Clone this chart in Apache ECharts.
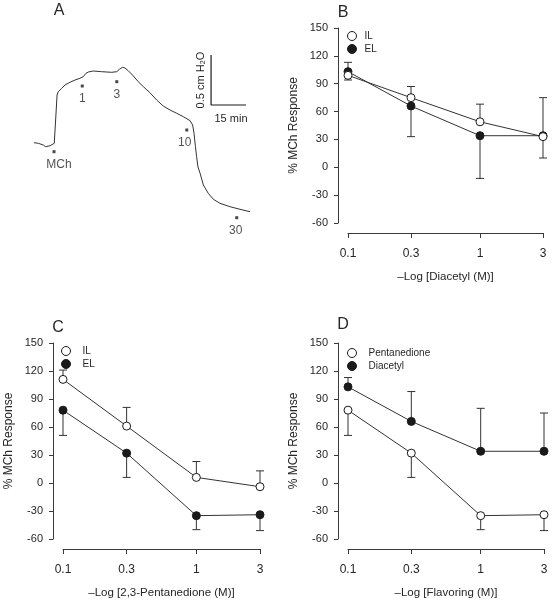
<!DOCTYPE html>
<html>
<head>
<meta charset="utf-8">
<script src="https://cdn.jsdelivr.net/npm/echarts@6/dist/echarts.min.js"></script>
<style>
html,body{margin:0;padding:0;background:#fff;}
#chart{width:552px;height:600px;}
</style>
</head>
<body>
<div id="chart"></div>
<script>
// ---------- DATA ----------
const doseTicks = [0.1, 0.3, 1, 3];

// Panel B: Diacetyl
const bIL = [99, 75, 49, 33];
const bILErrEnd = [94, 87, 68, 10];
const bEL = [103, 66, 34, 34];
const bELErrEnd = [113, 33, -12, 75];

// Panel C: 2,3-Pentanedione
const cIL = [111, 61, 6, -4];
const cILErrEnd = [121, 81, 23, 13];
const cEL = [78, 32, -35, -34];
const cELErrEnd = [51, 6, -50, -51];

// Panel D: Flavoring comparison (EL)
const dPent = [78, 32, -35, -34];
const dPentErrEnd = [51, 6, -50, -51];
const dDiac = [103, 66, 34, 34];
const dDiacErrEnd = [113, 98, 80, 75];

// Panel A: pressure trace (minutes, cm H2O)
const traceTime = [1.7, 3.6, 5.7, 6.7, 7.5, 8.6, 10.4, 11.0, 11.6, 12.1, 13.6, 15.0, 17.1, 19.3, 21.4, 22.8, 24.0, 25.0, 27.1, 30.7, 35.0, 37.2, 38.3, 39.7, 40.7, 42.1, 44.3, 46.4, 48.6, 51.4, 54.3, 57.1, 60.0, 62.9, 65.7, 68.6, 69.7, 70.3, 70.9, 71.4, 72.0, 72.9, 74.3, 76.4, 78.6, 81.4, 85.7, 90.0, 94.3];
const tracePressure = [0.873, 0.867, 0.85, 0.833, 0.813, 0.843, 0.867, 0.883, 1.35, 1.383, 1.417, 1.45, 1.477, 1.50, 1.517, 1.533, 1.567, 1.58, 1.59, 1.583, 1.577, 1.583, 1.607, 1.627, 1.62, 1.593, 1.54, 1.483, 1.433, 1.373, 1.30, 1.24, 1.20, 1.167, 1.133, 1.093, 1.05, 0.967, 0.833, 0.733, 0.63, 0.567, 0.45, 0.367, 0.307, 0.267, 0.233, 0.207, 0.183];
const doseLabels = ['MCh', '1', '3', '10', '30'];
const doseTime = [10.3, 22.4, 37.2, 67.2, 88.6];
const dosePressure = [0.783, 1.44, 1.483, 1.0, 0.123];
const scaleBarTime = [77.6, 77.6, 92.6];
const scaleBarPressure = [1.75, 1.25, 1.25];

// ---------- STYLE ----------
const FONT = 'Liberation Sans, Arial, Helvetica, sans-serif';
const INK = '#1a1a1a';
const AXIS = '#3a3a3a';
const TXT = '#262626';
const labelOffsets = {MCh: [5, 0], '10': [-2, 0], '30': [-1, 0]};

function pairs(xs, ys) { return xs.map((x, i) => [x, ys[i]]); }
function errTriples(ys, ends) { return doseTicks.map((x, i) => [x, ys[i], ends[i]]); }

function xAxisFor(gi, name) {
  return {
    type: 'log', logBase: 10, gridIndex: gi, min: 0.1, max: 3, offset: 10,
    axisLine: {show: true, onZero: false, lineStyle: {color: AXIS, width: 1}},
    axisTick: {show: true, customValues: doseTicks, length: 5, inside: false, lineStyle: {color: AXIS}},
    axisLabel: {customValues: doseTicks, fontSize: 12, color: TXT, fontFamily: FONT, margin: 15,
      formatter: v => String(+(+v).toPrecision(2))},
    minorTick: {show: false}, splitLine: {show: false}, minorSplitLine: {show: false},
    name: name, nameLocation: 'middle', nameGap: 38,
    nameTextStyle: {fontSize: 11.5, color: TXT, fontFamily: FONT}
  };
}
function yAxisFor(gi) {
  return {
    type: 'value', gridIndex: gi, min: -60, max: 150, interval: 30, offset: 10,
    axisLine: {show: true, lineStyle: {color: AXIS, width: 1}},
    axisTick: {show: true, length: 4, lineStyle: {color: AXIS}},
    axisLabel: {fontSize: 11, color: TXT, fontFamily: FONT, margin: 10},
    splitLine: {show: false},
    name: '% MCh Response', nameLocation: 'middle', nameGap: 38,
    nameTextStyle: {fontSize: 12, color: TXT, fontFamily: FONT}
  };
}
function errSeries(gi, ys, ends) {
  return {
    type: 'custom', xAxisIndex: gi, yAxisIndex: gi, z: 1, silent: true,
    data: errTriples(ys, ends),
    encode: {x: 0, y: [1, 2]},
    renderItem: function (params, api) {
      const p0 = api.coord([api.value(0), api.value(1)]);
      const p1 = api.coord([api.value(0), api.value(2)]);
      const st = {stroke: '#333', lineWidth: 1};
      return {type: 'group', children: [
        {type: 'line', shape: {x1: p0[0], y1: p0[1], x2: p1[0], y2: p1[1]}, style: st},
        {type: 'line', shape: {x1: p1[0] - 4, y1: p1[1], x2: p1[0] + 4, y2: p1[1]}, style: st}
      ]};
    }
  };
}
function lineSeries(gi, name, ys, open) {
  return {
    type: 'line', name: name, xAxisIndex: gi, yAxisIndex: gi, z: open ? 4 : 3,
    data: pairs(doseTicks, ys),
    symbol: 'circle', symbolSize: 8, showAllSymbol: true,
    itemStyle: {color: open ? '#fff' : INK, borderColor: INK, borderWidth: 1},
    lineStyle: {color: '#333', width: 1},
    emphasis: {disabled: true}
  };
}
const openItem = {color: '#fff', borderColor: INK, borderWidth: 1};
const fillItem = {color: INK, borderColor: INK, borderWidth: 1};
function legendFor(left, top, names, pad) {
  return {
    orient: 'vertical', left: left, top: top, icon: 'circle', itemWidth: 9, itemHeight: 9, itemGap: 3,
    selectedMode: false,
    textStyle: {fontSize: 10, color: TXT, fontFamily: FONT, padding: [0, 0, 0, pad]},
    data: [{name: names[0], itemStyle: openItem}, {name: names[1], itemStyle: fillItem}]
  };
}

const letters = [['A', 59, 11], ['B', 343, 13], ['C', 58, 328], ['D', 343, 325]];

const option = {
  animation: false,
  backgroundColor: '#fff',
  grid: [
    {left: 30, top: 30, width: 233.33, height: 200},
    {left: 348, top: 28, width: 195, height: 195},
    {left: 63, top: 343, width: 197, height: 196},
    {left: 348, top: 343, width: 196, height: 196}
  ],
  xAxis: [
    {type: 'value', gridIndex: 0, min: 0, max: 100, show: false},
    xAxisFor(1, '\u2013Log [Diacetyl (M)]'),
    xAxisFor(2, '\u2013Log [2,3-Pentanedione (M)]'),
    xAxisFor(3, '\u2013Log [Flavoring (M)]')
  ],
  yAxis: [
    {type: 'value', gridIndex: 0, min: 0, max: 2, show: false},
    yAxisFor(1), yAxisFor(2), yAxisFor(3)
  ],
  legend: [
    legendFor(342, 26, ['IL', 'EL'], 3),
    legendFor(56, 341, ['IL', 'EL'], 7),
    legendFor(342, 343, ['Pentanedione', 'Diacetyl'], 7)
  ],
  graphic: [
    ...letters.map(l => ({type: 'text', x: l[1], y: l[2],
      style: {text: l[0], fill: TXT, font: '16px ' + FONT, textAlign: 'center', textVerticalAlign: 'middle'}})),
    {type: 'text', x: 201, y: 80, rotation: Math.PI / 2,
      style: {text: '0.5 cm H\u2082O', font: '11px ' + FONT, fill: TXT, textAlign: 'center', textVerticalAlign: 'middle'}},
    {type: 'text', x: 231, y: 119,
      style: {text: '15 min', font: '11px ' + FONT, fill: TXT, textAlign: 'center', textVerticalAlign: 'middle'}}
  ],
  series: [
    {type: 'line', name: 'trace', xAxisIndex: 0, yAxisIndex: 0, data: pairs(traceTime, tracePressure),
      showSymbol: false, lineStyle: {color: '#333', width: 1}, emphasis: {disabled: true}, silent: true},
    {type: 'line', name: 'scalebar', xAxisIndex: 0, yAxisIndex: 0, data: pairs(scaleBarTime, scaleBarPressure),
      showSymbol: false, lineStyle: {color: INK, width: 1.2}, emphasis: {disabled: true}, silent: true},
    {type: 'scatter', name: 'doses', xAxisIndex: 0, yAxisIndex: 0, symbol: 'rect', symbolSize: 3,
      itemStyle: {color: INK}, silent: true,
      data: doseLabels.map((n, i) => ({name: n, value: [doseTime[i], dosePressure[i]],
        label: {offset: labelOffsets[n] || [0, 0]}})),
      label: {show: true, position: 'bottom', distance: 5, formatter: p => p.name,
        fontSize: 12, color: TXT, fontFamily: FONT}},
    errSeries(1, bEL, bELErrEnd), errSeries(1, bIL, bILErrEnd),
    lineSeries(1, 'EL', bEL, false), lineSeries(1, 'IL', bIL, true),
    errSeries(2, cEL, cELErrEnd), errSeries(2, cIL, cILErrEnd),
    lineSeries(2, 'EL', cEL, false), lineSeries(2, 'IL', cIL, true),
    errSeries(3, dDiac, dDiacErrEnd), errSeries(3, dPent, dPentErrEnd),
    lineSeries(3, 'Diacetyl', dDiac, false), lineSeries(3, 'Pentanedione', dPent, true)
  ]
};
const chart = echarts.init(document.getElementById('chart'), null, {renderer: 'canvas'});
chart.setOption(option);
</script>
</body>
</html>
